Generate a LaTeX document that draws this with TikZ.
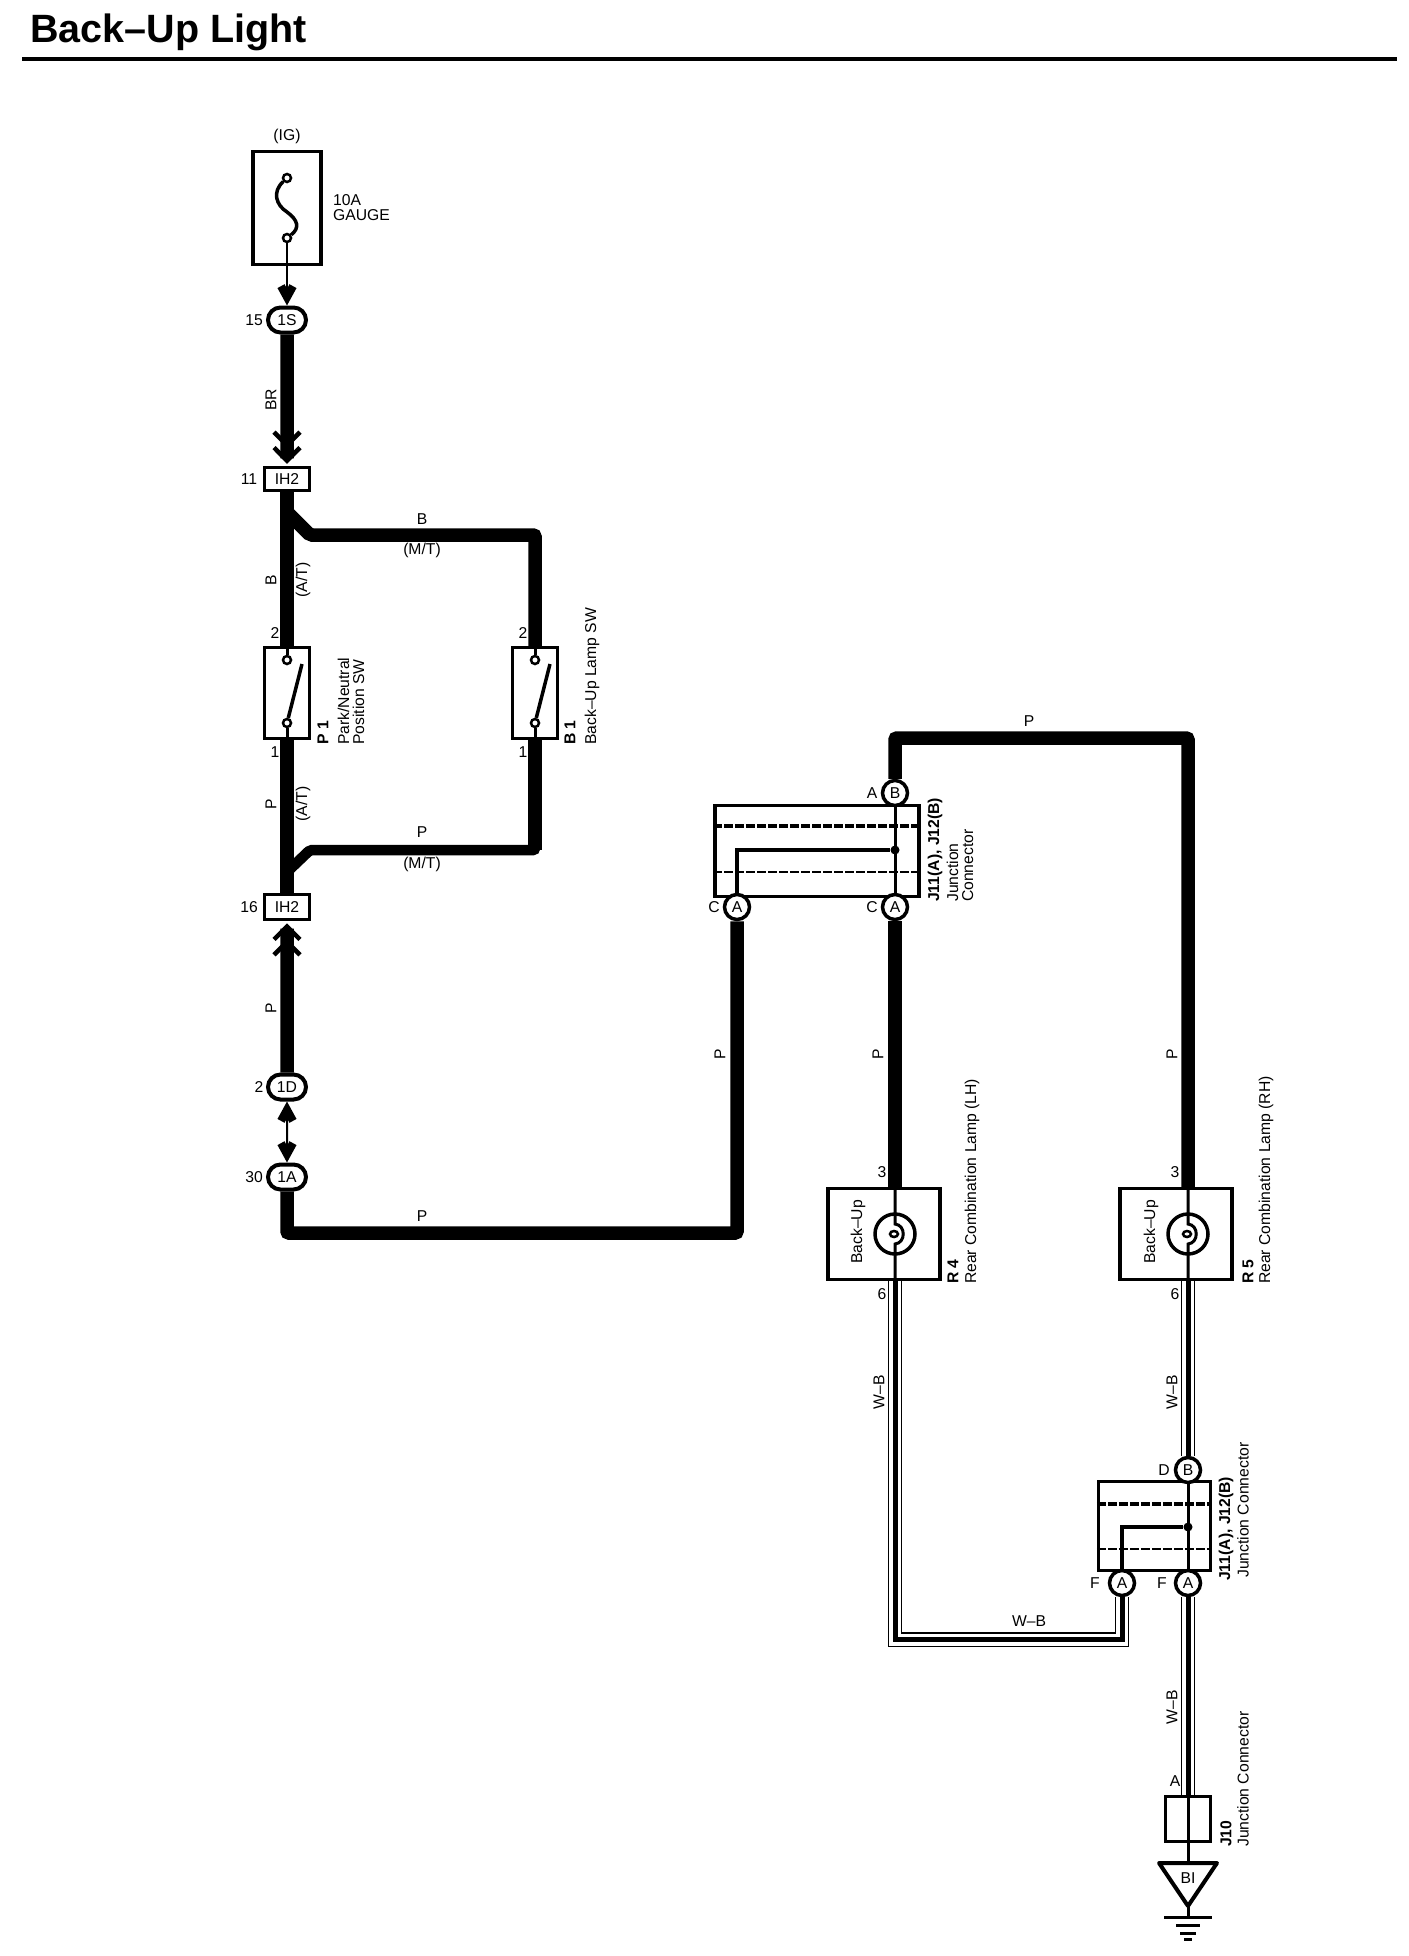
\documentclass[tikz,border=0pt]{standalone}
\usepackage{fontspec}
\setmainfont{Liberation Sans}
\usetikzlibrary{arrows.meta,calc,positioning,shapes.misc}
\tikzset{
	lbl/.style={inner sep=0pt,font=\fontsize{15.7}{17}\selectfont},
	vlbl/.style={lbl,rotate=90},
	vside/.style={vlbl,anchor=west},
	vbold/.style={vside,font=\fontsize{15.7}{17}\selectfont\bfseries},
	wire/.style={line width=13.5pt,rounded corners=2pt},
	flatwire/.style={line width=10.5pt,rounded corners=2pt},
	wbwire/.style={
			line width=5pt,
			preaction={draw,line width=14.5pt},
			preaction={draw,white,line width=12pt}
		},
	chev/.style={-{Straight Barb[length=13pt,width=26pt,line width=4.5pt,sep=-3pt] Straight Barb[length=13pt,width=26pt,line width=4.5pt]},shorten >=2pt},
	lead/.style={line width=2pt},
	lug/.tip={Straight Barb[length=11pt,width=12pt,line width=8pt]},
	unit/.style={draw,line width=3.5pt,fill=white,inner sep=0pt,minimum width=#1},
	oval/.style={rounded rectangle,draw,line width=4pt,fill=white,inner sep=0pt,minimum width=38pt,minimum height=25pt,lbl},
	tag/.style={draw,line width=3.5pt,fill=white,inner sep=0pt,minimum width=45pt,minimum height=23pt,lbl},
	pin/.style={circle,draw,line width=3.5pt,fill=white,inner sep=0pt,minimum size=25pt,lbl},
	term/.style={circle,draw,line width=2.5pt,fill=white,inner sep=0pt,minimum size=8pt},
	dot/.style={circle,fill,inner sep=0pt,minimum size=9pt},
	lampc/.style={circle,draw,line width=3.5pt,inner sep=0pt,minimum size=40pt}
}
\begin{document}
\begin{tikzpicture}[x=1pt,y=-1pt]
	\useasboundingbox (0,0) rectangle (1408,1956);
	% title
	\node[anchor=base west,inner sep=0pt,font=\fontsize{39.5}{41}\selectfont\bfseries] (title) at (30,43) {Back--Up Light};
	\coordinate (rulea) at (22,59);
	\coordinate (ruleb) at (1397,59);
	\draw[line width=4pt] (rulea) -- (ruleb);

	% left column
	\node[lbl] (ig) at (287,136) {(IG)};
	\node[unit=68pt,minimum height=113pt] (fuse) at (287,208) {};
	\node[term] (fuset) at (287,178) {};
	\node[term] (fuseb) at (287,238) {};
	\node[lbl,anchor=west,align=left] (fusetx) at (333,208) {10A\\[-2pt]GAUGE};
	\draw[line width=3.5pt] (fuset) .. controls (272,192) and (276,205) .. (287,212) .. controls (298,220) and (300,228) .. (fuseb);
	\node[oval] (c1s) at (287,320) {1S};
	\node[lbl] (n15) at (254,320) {15};
	\node[tag] (ih2a) at (287,479) {IH2};
	\node[lbl] (n11) at (249,479) {11};
	\node[tag,minimum height=25pt] (ih2b) at (287,907) {IH2};
	\node[lbl] (n16) at (249,907) {16};
	\node[oval] (c1d) at (287,1087) {1D};
	\node[lbl] (n2d) at (259,1087) {2};
	\node[oval] (c1a) at (287,1177) {1A};
	\node[lbl] (n30) at (254,1177) {30};

	% switches
	\foreach \nm/\px in {p1/287,b1/535}{
			\node[unit=45pt,minimum height=91pt] (\nm) at (\px,693) {};
			\node[term] (\nm t) at (\px,660) {};
			\node[term] (\nm b) at (\px,723) {};
			\coordinate (\nm e) at (\px+15,664);
			\draw[line width=3pt] (\nm.north) -- (\nm t) (\nm b) -- (\nm.south);
			\draw[line width=3.5pt] (\nm b) -- (\nm e);
			\node[lbl] at (\px-12,633) {2};
			\node[lbl] at (\px-12,752) {1};
		}
	\node[vbold] (p1id) at (323,745) {P 1};
	\node[vside,align=left] (p1tx) at (351,745) {Park/Neutral\\[-2pt]Position SW};
	\node[vbold] (b1id) at (570,745) {B 1};
	\node[vside] (b1tx) at (592,745) {Back--Up Lamp SW};

	% left wires
	\draw[lead,-{lug}] (fuseb) -- (c1s);
	\draw[wire,chev] (c1s) -- (ih2a);
	\draw[wire] (ih2a) -- (p1);
	\draw[wire] (p1) -- (ih2b);
	\draw[wire,chev] (c1d) -- (ih2b);
	\coordinate (tapb) at (287,512);
	\coordinate (cornb) at (310,535);
	\coordinate (tapp) at (287,872);
	\coordinate (cornp) at (310,850);
	\draw[wire] (tapb) -- (cornb) -| (b1);
	\draw[flatwire] (tapp) -- (cornp) -| (b1);
	\draw[wire] (b1 |- cornp) -- (b1);
	\draw[lead,{lug}-{lug}] (c1d) -- (c1a);

	\node[vlbl] (wbr) at (271,400) {BR};
	\node[vlbl] (wb) at (271,580) {B};
	\node[vlbl] (atb) at (303,580) {(A/T)};
	\node[lbl] (mb) at (422,519) {B};
	\node[lbl] (mtb) at (422,550) {(M/T)};
	\node[vlbl] (wp) at (271,804) {P};
	\node[vlbl] (atp) at (303,804) {(A/T)};
	\node[lbl] (mp) at (422,832) {P};
	\node[lbl] (mtp) at (422,864) {(M/T)};
	\node[vlbl] (wp2) at (271,1008) {P};
	\node[lbl] (wp3) at (422,1216) {P};

	% upper junction connector
	\node[unit=204pt,minimum height=91pt] (jc) at (817,851) {};
	\node[pin] (jca) at (737,907) {A};
	\node[pin] (jcb) at (895,907) {A};
	\node[pin] (jct) at (895,793) {B};
	\node[dot] (jcd) at (895,850) {};
	\draw[line width=3.5pt,dash pattern=on 9pt off 2pt] (jc.west |- 0,826) -- (jc.east |- 0,826);
	\draw[line width=2.5pt,dash pattern=on 9pt off 2pt] (jc.west |- 0,872) -- (jc.east |- 0,872);
	\draw[line width=3pt] (jct) -- (jcb);
	\draw[line width=3.5pt] (jca) |- (jcd);
	\node[lbl] (jcl) at (714,907) {C};
	\node[lbl] (jcm) at (872,907) {C};
	\node[lbl] (jcn) at (872,793) {A};
	\node[vbold] (jcid) at (935,902) {J11(A), J12(B)};
	\node[vside,align=left] (jctx) at (960,902) {Junction\\[-2pt]Connector};

	% lamps
	\node[unit=112pt,minimum height=91pt] (r4) at (884,1234) {};
	\node[unit=112pt,minimum height=91pt] (r5) at (1176,1234) {};
	\foreach \lp/\bx/\px in {l4/r4/895,l5/r5/1188}{
			\node[lampc] (\lp) at (\px,1234) {};
			\coordinate (\lp a) at (\px,1224);
			\coordinate (\lp b) at (\px,1244);
			\draw[line width=3pt] (\lp |- \bx.north) -- (\lp a) .. controls (\px+11,1225) and (\px+11,1243) .. (\lp b) -- (\lp |- \bx.south);
			\draw[line width=2.5pt] (\px-1,1234) ellipse (4pt and 3pt);
			\node[lbl] at (\px-13,1172) {3};
			\node[lbl] at (\px-13,1294) {6};
		}
	\node[vlbl] (bu4) at (858,1232) {Back--Up};
	\node[vlbl] (bu5) at (1151,1232) {Back--Up};
	\node[vbold] (r4id) at (953,1284) {R 4};
	\node[vside] (r4tx) at (972,1284) {Rear Combination Lamp (LH)};
	\node[vbold] (r5id) at (1248,1284) {R 5};
	\node[vside] (r5tx) at (1266,1284) {Rear Combination Lamp (RH)};

	% P wires
	\coordinate (botl) at (287,1233);
	\coordinate (topr) at (1188,738);
	\draw[wire] (c1a) -- (botl) -| (jca);
	\draw[wire] (jct) |- (topr) -- (l5 |- r5.north);
	\draw[wire] (jcb) -- (l4 |- r4.north);
	\node[vlbl] (wp4) at (720,1054) {P};
	\node[vlbl] (wp5) at (878,1054) {P};
	\node[vlbl] (wp6) at (1172,1054) {P};
	\node[lbl] (wp7) at (1029,721) {P};

	% lower junction connector
	\node[unit=112pt,minimum height=89pt] (jd) at (1154.5,1526) {};
	\node[pin] (jda) at (1122,1583) {A};
	\node[pin] (jdb) at (1188,1583) {A};
	\node[pin] (jdt) at (1188,1470) {B};
	\node[dot] (jdd) at (1188,1527) {};
	\draw[line width=3.5pt,dash pattern=on 9pt off 2pt] (jd.west |- 0,1504) -- (jd.east |- 0,1504);
	\draw[line width=2.5pt,dash pattern=on 9pt off 2pt] (jd.west |- 0,1549) -- (jd.east |- 0,1549);
	\draw[line width=3pt] (jdt) -- (jdb);
	\draw[line width=3.5pt] (jda) |- (jdd);
	\node[lbl] (jdl) at (1095,1583) {F};
	\node[lbl] (jdm) at (1162,1583) {F};
	\node[lbl] (jdn) at (1164,1470) {D};
	\node[vbold] (jdid) at (1226,1581) {J11(A), J12(B)};
	\node[vside] (jdtx) at (1243,1578) {Junction Connector};

	% J10 and ground
	\node[unit=45pt,minimum height=45pt] (j10) at (1188,1819) {};
	\coordinate (tria) at (1159,1863);
	\coordinate (trib) at (1217,1863);
	\coordinate (tric) at (1188,1906);
	\draw[line width=4pt,line join=round] (tria) -- (trib) -- (tric) -- cycle;
	\node[lbl] (bi) at (1188,1878) {BI};
	\draw[line width=3pt] (j10.north) -- (j10.south) -- (tria -| tric);
	\coordinate (gnd) at (1188,1917);
	\draw[line width=3pt] (tric) -- (gnd);
	\draw[line width=3pt] ($(gnd)+(-24,0)$) -- ($(gnd)+(24,0)$);
	\draw[line width=3pt] ($(gnd)+(-12,8)$) -- ($(gnd)+(12,8)$);
	\draw[line width=3pt] ($(gnd)+(-8,16)$) -- ($(gnd)+(8,16)$);
	\draw[line width=3pt] ($(gnd)+(-4,22)$) -- ($(gnd)+(4,22)$);
	\node[lbl] (j10a) at (1175,1781) {A};
	\node[vbold] (j10id) at (1226,1847) {J10};
	\node[vside] (j10tx) at (1243,1847) {Junction Connector};

	% W-B wires
	\coordinate (wbc) at (895,1639.5);
	\draw[wbwire] (l4 |- r4.south) -- (wbc) -| (jda);
	\draw[wbwire] (l5 |- r5.south) -- (jdt);
	\draw[wbwire] (jdb) -- (j10.north);
	\node[vlbl] (wb4) at (879,1392) {W--B};
	\node[vlbl] (wb5) at (1172,1392) {W--B};
	\node[lbl] (wb6) at (1029,1621) {W--B};
	\node[vlbl] (wb7) at (1172,1707) {W--B};
\end{tikzpicture}
\end{document}
